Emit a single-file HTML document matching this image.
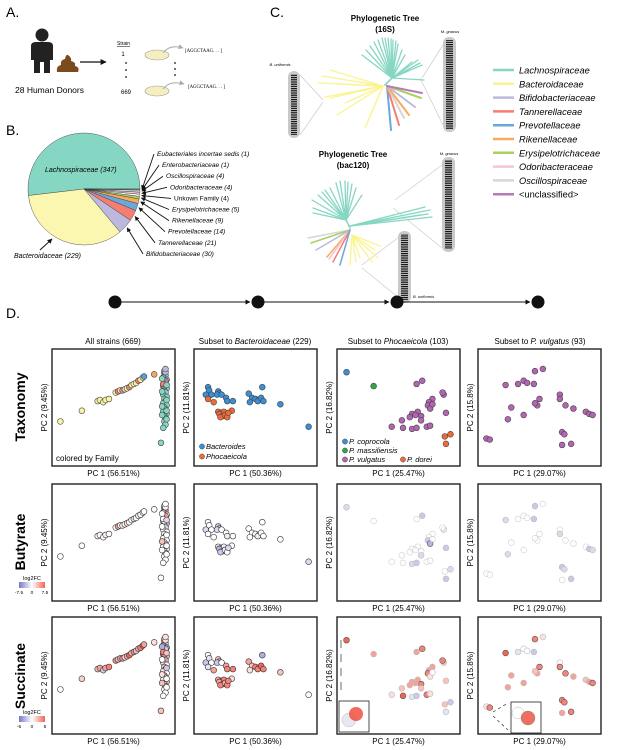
<!DOCTYPE html>
<html><head><meta charset="utf-8"><style>
html,body{margin:0;padding:0;background:#fff;}
svg{display:block;font-family:"Liberation Sans",sans-serif;}
.it{font-style:italic}
</style></head><body>
<svg id="fig" width="619" height="750" viewBox="0 0 619 750" xmlns="http://www.w3.org/2000/svg">
<defs>
<pattern id="bars" width="4" height="2.2" patternUnits="userSpaceOnUse"><rect width="4" height="1.2" fill="#111"/></pattern>
<marker id="ah" viewBox="0 0 10 10" refX="9" refY="5" markerWidth="5" markerHeight="5" orient="auto"><path d="M0,0 L10,5 L0,10z" fill="#111"/></marker>
<marker id="ahg" viewBox="0 0 10 10" refX="9" refY="5" markerWidth="5" markerHeight="5" orient="auto"><path d="M0,0 L10,5 L0,10z" fill="#aaa"/></marker>
</defs>

<g>
<text x="6" y="17" font-size="14">A.</text>
<g fill="#222">
<circle cx="42" cy="35" r="6.5"/>
<path d="M31,46 Q31,42 36,42 L48,42 Q53,42 53,46 L53,60 L50,60 L50,73 L44,73 L44,62 L40,62 L40,73 L34,73 L34,60 L31,60z"/>
</g>
<path d="M57,72 Q56,66 61,65 Q60,60 65,59 Q66,54 68,55 Q72,58 71,61 Q76,62 75,66 Q80,67 78,72z" fill="#7b4a1e"/>
<line x1="80" y1="62" x2="106" y2="62" stroke="#111" stroke-width="1.2" marker-end="url(#ah)"/>
<text x="15" y="93" font-size="8.5">28 Human Donors</text>
<text x="117" y="45" font-size="5" text-decoration="underline">Strain</text>
<text x="123" y="56" font-size="6" text-anchor="middle">1</text>
<circle cx="126" cy="63" r="0.9" fill="#111"/><circle cx="126" cy="70" r="0.9" fill="#111"/><circle cx="126" cy="77" r="0.9" fill="#111"/>
<text x="126" y="94" font-size="6" text-anchor="middle">669</text>
<ellipse cx="157" cy="55" rx="12" ry="5" fill="#f5efc0" stroke="#999" stroke-width="0.6"/>
<ellipse cx="157" cy="91" rx="12" ry="5" fill="#f5efc0" stroke="#999" stroke-width="0.6"/>
<path d="M163,53 Q170,44 183,48" stroke="#aaa" fill="none" stroke-width="1" marker-end="url(#ahg)"/>
<path d="M163,89 Q170,80 184,84" stroke="#aaa" fill="none" stroke-width="1" marker-end="url(#ahg)"/>
<circle cx="175" cy="63" r="0.9" fill="#111"/><circle cx="175" cy="69" r="0.9" fill="#111"/><circle cx="175" cy="75" r="0.9" fill="#111"/>
<text x="185" y="52" font-size="4.8" font-family="Liberation Serif,serif">[AGGCTAAG. . . ]</text>
<text x="188" y="88" font-size="4.8" font-family="Liberation Serif,serif">[AGGCTAAG. . . ]</text>
</g>

<g>
<text x="6" y="135" font-size="14">B.</text>
<g id="pie"></g>
<g id="pielabels"></g>
</g>

<g>
<text x="270" y="17" font-size="14">C.</text>
<text x="385" y="21" font-size="8" font-weight="bold" text-anchor="middle">Phylogenetic Tree</text>
<text x="385" y="32" font-size="8" font-weight="bold" text-anchor="middle">(16S)</text>
<text x="353" y="157" font-size="8" font-weight="bold" text-anchor="middle">Phylogenetic Tree</text>
<text x="353" y="168" font-size="8" font-weight="bold" text-anchor="middle">(bac120)</text>
<text x="450" y="33" font-size="4" class="it" text-anchor="middle">M. gnavus</text>
<text x="280" y="66" font-size="4" class="it" text-anchor="middle">B. uniformis</text>
<text x="449" y="155" font-size="4" class="it" text-anchor="middle">M. gnavus</text>
<text x="413" y="298" font-size="4" class="it">B. uniformis</text>
<g>
<rect x="443" y="37" width="13" height="95" rx="6" fill="#c9c9c9"/><rect x="446" y="40" width="7" height="89" fill="url(#bars)"/>
<rect x="288" y="71" width="12" height="67" rx="6" fill="#c9c9c9"/><rect x="291" y="74" width="6" height="61" fill="url(#bars)"/>
<rect x="442" y="157" width="13" height="95" rx="6" fill="#c9c9c9"/><rect x="445" y="160" width="7" height="89" fill="url(#bars)"/>
<rect x="398" y="231" width="13" height="72" rx="6" fill="#c9c9c9"/><rect x="401" y="234" width="7" height="66" fill="url(#bars)"/>
</g>
<g stroke="#ccc" stroke-width="0.7" fill="none">
<path d="M422,78 L443,45 M420,78 L443,125"/>
<path d="M323,100 L300,75 M323,102 L300,135"/>
<path d="M395,200 L442,165 M393,208 L442,248"/>
<path d="M362,265 L399,237 M362,268 L399,298"/>
</g>
<g id="trees" stroke-linecap="round" fill="none"></g>
<g id="legend"></g>
</g>

<g>
<text x="6" y="318" font-size="14">D.</text>
<g>
<line x1="121" y1="302" x2="250" y2="302" stroke="#111" marker-end="url(#ah)"/>
<line x1="264" y1="302" x2="389" y2="302" stroke="#111" marker-end="url(#ah)"/>
<line x1="403" y1="302" x2="530" y2="302" stroke="#111" marker-end="url(#ah)"/>
<circle cx="115" cy="302" r="6.5" fill="#111"/><circle cx="258" cy="302" r="6.5" fill="#111"/><circle cx="397" cy="302" r="6.5" fill="#111"/><circle cx="538" cy="302" r="6.5" fill="#111"/>
</g>
<g font-size="8" text-anchor="middle">
<text x="113" y="344">All strains (669)</text>
<text x="255" y="344">Subset to <tspan class="it">Bacteroidaceae</tspan> (229)</text>
<text x="398" y="344">Subset to <tspan class="it">Phocaeicola</tspan> (103)</text>
<text x="540" y="344">Subset to <tspan class="it">P. vulgatus</tspan> (93)</text>
</g>
<g font-size="14" font-weight="bold" text-anchor="middle">
<text transform="translate(25,407) rotate(-90)">Taxonomy</text>
<text transform="translate(25,542) rotate(-90)">Butyrate</text>
<text transform="translate(25,676) rotate(-90)">Succinate</text>
</g>
<g id="scatters"></g>
</g>
</svg>
<script>
const NS='http://www.w3.org/2000/svg';
function mk(tag,attrs,parent){const e=document.createElementNS(NS,tag);for(const k in attrs)e.setAttribute(k,attrs[k]);if(parent)parent.appendChild(e);return e;}

const pieFamilies=['Lachnospiraceae','Bacteroidaceae','Bifidobacteriaceae','Tannerellaceae','Prevotellaceae','Rikenellaceae','Erysipelotrichaceae','Unkown Family','Odoribacteraceae','Oscillospiraceae','Enterobacteriaceae','Eubacteriales incertae sedis'];
const pieCounts=[347,229,30,21,14,9,5,4,4,4,1,1];
const pieColors=['#86d6c4','#fbf7b0','#bdb8de','#f57d72','#6aa8da','#f9ab5c','#a8d25c','#ffffff','#f5c4d8','#d6d6d6','#ffffff','#ffffff'];
const cx=84,cy=189,R=56;
const pie=document.getElementById('pie');
let total=pieCounts.reduce((a,b)=>a+b,0),acc=0;
const mids=[];
pieCounts.forEach((c,i)=>{
  const a0=acc/total*2*Math.PI, a1=(acc+c)/total*2*Math.PI; acc+=c;
  const p0=[cx+R*Math.cos(a0),cy-R*Math.sin(a0)], p1=[cx+R*Math.cos(a1),cy-R*Math.sin(a1)];
  const large=(a1-a0)>Math.PI?1:0;
  const s=mk('path',{d:`M${cx},${cy} L${p0[0]},${p0[1]} A${R},${R} 0 ${large} 0 ${p1[0]},${p1[1]} Z`,fill:pieColors[i],stroke:'#333','stroke-width':0.4},pie);
  
  
  mids.push((a0+a1)/2);
});
const pl=document.getElementById('pielabels');
let t=mk('text',{x:45,y:172,'font-size':7,'class':'it'},pl);t.textContent='Lachnospiraceae (347)';
t=mk('text',{x:14,y:258,'font-size':7,'class':'it'},pl);t.textContent='Bacteroidaceae (229)';
mk('line',{x1:40,y1:250,x2:52,y2:239,stroke:'#111','stroke-width':1,'marker-end':'url(#ah)'},pl);
const lblOrder=[11,10,9,8,7,6,5,4,3,2];
const lblX=[157,162,166,170,174,172,172,168,158,146];
lblOrder.forEach((fi,k)=>{
  const y=156+k*11.1;
  const tx=mk('text',{x:lblX[k],y:y,'font-size':6.6,'class':fi===7?'':'it'},pl);
  tx.textContent=pieFamilies[fi]+' ('+pieCounts[fi]+')';
  const a=mids[fi];
  const ex=cx+(R+2)*Math.cos(a), ey=cy-(R+2)*Math.sin(a);
  mk('line',{x1:lblX[k]-3,y1:y-2,x2:ex,y2:ey,stroke:'#111','stroke-width':0.9,'marker-end':'url(#ah)'},pl);
});

const tcol={L:'#86d6c4',B:'#fbf48e',Bi:'#bdb8de',T:'#f57d72',P:'#6aa8da',R:'#f9ab5c',E:'#a8d25c',O:'#f5c4d8',Os:'#d6d6d6',U:'#b77ab8'};
const trees=document.getElementById('trees');
function br(c,x1,y1,x2,y2,w){mk('line',{x1,y1,x2,y2,stroke:tcol[c],'stroke-width':w||1.3},trees);}
[[362,55],[366,50],[370,46],[374,42],[378,40],[382,38],[385,38],[388,38],[391,39],[393,40],[396,41],[398,44],[402,50],[405,55],[412,62],[418,60],[420,63],[422,65],[424,80],[410,70]].forEach(p=>br('L',392,78,p[0],p[1]));
br('L',385,85,392,78,1.7);
[[318,83],[322,76],[330,70],[325,97],[330,98],[337,115],[345,103],[337,84]].forEach(p=>br('B',383,86,p[0],p[1]));
br('B',383,86,365,128,1.4);
[['P',391,130],['T',399,125],['Os',404,118],['R',409,115],['Bi',415,107],['E',421,98],['U',422,93]].forEach(a=>br(a[0],387,86,a[1],a[2],2));
[[312,200],[313,208],[313,213],[318,195],[322,192],[325,190],[330,188],[336,183],[340,181],[345,181],[348,182],[352,184],[356,188],[362,195]].forEach(p=>br('L',346,220,p[0],p[1]));
[[425,207],[430,210],[428,214],[432,217],[420,215]].forEach(p=>br('L',350,226,p[0],p[1]));
br('L',346,220,350,228,1.5);
[['Os',308,238],['E',311,243],['Bi',316,250],['R',327,257],['O',329,259],['T',333,262],['P',340,265]].forEach(a=>br(a[0],350,230,a[1],a[2],1.5));
[[350,265],[356,262],[360,258],[375,250],[380,246],[378,258],[372,262]].forEach(p=>br('B',352,235,p[0],p[1]));

const legNames=['Lachnospiraceae','Bacteroidaceae','Bifidobacteriaceae','Tannerellaceae','Prevotellaceae','Rikenellaceae','Erysipelotrichaceae','Odoribacteraceae','Oscillospiraceae','<unclassified>'];
const legColors=['#86d6c4','#fbf48e','#bdb8de','#f57d72','#6aa8da','#f9ab5c','#a8d25c','#f5c4d8','#d6d6d6','#b77ab8'];
const lg=document.getElementById('legend');
legNames.forEach((n,i)=>{
  const y=70+i*13.8;
  const g=mk('g',{},lg);
  
  
  mk('line',{x1:493,y1:y,x2:514,y2:y,stroke:legColors[i],'stroke-width':2.5},g);
  const tx=mk('text',{x:519,y:y+3.5,'font-size':9.3,'class':i===9?'':'it'},g);tx.textContent=n;
});

const p1x=[3,22,36,38,41,43,46, 52,54,56,58,60,62,64,66,68,70,72,74,76,77, 86, 95,96,94,97,95,96,94,97,95,96,94,97,95,96,94,97,95,96,94,97,95,96,95,96, 92, 95,96, 96,95, 94, 93,97,93,97,93,97,93,97,96,94];
const p1y=[37,47,56,57,55,57,58, 64,65,66,66,67,68,69,71,72,73,75,76,78,79, 81, 82,80,78,76,74,72,70,68,66,64,62,60,58,56,54,52,50,48,46,44,42,40,37,34, 17, 84,83, 75,70, 72, 77,71,65,57,51,47,43,39,86,31];
const p1fam=[1,1,1,1,1,1,1, 1,3,1,3,8,1,3,1,1,1,3,1,1,4, 5, 0,0,0,0,0,0,0,0,0,0,0,0,0,0,0,0,0,0,0,0,0,0,0,0, 0, 2,2, 9,9, 3, 0,0,0,0,0,0,0,0,2,0];
const p1but=[0,0,0.5,0,0,1,0, 0,5,0,-1,0,2,0,0,-2,0,1,0,0,0, 0, 3,6,2,0,-3,0,0,4,0,-2,0,0,0,1,0,0,0,-1,0,0,0,0,0,0, 0, 0,0, 5,0, 0, 0,-2,0,0,3,0,0,0,0,0];
const p1suc=[0,1.5,2,3,-2,3,4, 4,-2,3,4,-1,3,5,2,4,-2,3,4,5,3, 1, 0,-2,3,-3,2,0,4,-2,1,3,-1,0,2,-3,1,0,3,-1,0,2,0,1,0,0, 2, 0,1, -2,3, 4, -3,2,0,-2,1,0,2,0,1,0];
const p2x=[8,9,6,11,17,18,16,20,24,25,30,44,47,50,53,52,55,57,45,56,72,97, 8,13,17,20,22,18,21,19,23,25,29,26];
const p2y=[69,66,62,62,65,63,62,62,59,56,56,63,59,58,57,56,59,56,55,69,53,32, 58,55,46,45,46,44,42,41,43,41,47,45];
const p2genus=[0,0,0,0,0,0,0,0,0,0,0,0,0,0,0,0,0,0,0,0,0,0, 1,1,1,1,1,1,1,1,1,1,1,1];
const p2but=[0,0,-2,0,-3,-4,-2,0,0,-1,0,0,0,0,0,-1,0,0,0,0,0,-2, 0,0,-2,-3,-1,-4,-2,-3,-1,0,0,-2];
const p2suc=[0,-1,-2,0,2,3,-2,0,3,4,4,3,2,4,3,4,5,4,1,-3,2,0, -1,3,3,4,4,3,5,4,3,4,1,4];
const p3x=[4,28, 71,66,90,80,77,76,78,67,62,70,70,53,60,44,54,62,66,75,78,92,89,80,65, 91,96,92];
const p3y=[83,70, 75,72,62,58,55,52,49,46,44,42,38,38,41,32,31,30,31,32,33,45,64,53,43, 23,25,16];
const p3sp=[0,1, 2,2,2,2,2,2,2,2,2,2,2,2,2,2,2,2,2,2,2,2,2,2,2, 3,3,3];
const p3but=[-2,0, -3,0,-1,0,0,-3,-4,0,0,0,-2,0,0,0,0,-2,-3,0,0,-3,0,0,0, 0,-2,-3];
const p3suc=[5,3, 4,3,2,3,3,4,1,3,3,4,2,2,3,1,5,-1,-2,4,1,2,4,0,3, 2,-2,-1];
const p4x=[46,53,20,31,36,45,68,68,50,48,25,73,80,36,22,91,94,97,3,6,70,72,78,70,39,46];
const p4y=[84,86,71,72,75,72,62,58,58,52,50,52,49,43,39,46,44,43,21,20,27,25,16,15,73,54];
const p4but=[-3,0,-2,0,0,-3,0,-2,0,0,0,0,0,0,-2,0,-3,-2,0,0,-3,-2,-3,0,0,0];
const p4suc=[4,1,5,-1,0,-2,0,4,4,3,3,4,3,3,3,2,3,4,1,4,4,4,4,3,0,2];

const famColors=['#86d6c4','#f8f4a4','#bdb8de','#f57d72','#5a9fd4','#f9a85a','#a8d25c','#f5c4d8','#d6d6d6','#b77ab8'];
const genusColors=['#3a8fd6','#f06a35'];
const spColors=['#3a8fd6','#2aa84a','#b563b5','#f06a35'];

const colX=[52,194,337,478], rowY=[349,484,617], BW=123, BH=117;
const pcx=['PC 1 (56.51%)','PC 1 (50.36%)','PC 1 (25.47%)','PC 1 (29.07%)'];
const pcy=['PC 2 (9.45%)','PC 2 (11.81%)','PC 2 (16.82%)','PC 2 (15.8%)'];
const panels=[
 {x:p1x,y:p1y,tax:p1fam,tc:famColors,but:p1but,suc:p1suc},
 {x:p2x,y:p2y,tax:p2genus,tc:genusColors,but:p2but,suc:p2suc},
 {x:p3x,y:p3y,tax:p3sp,tc:spColors,but:p3but,suc:p3suc},
 {x:p4x,y:p4y,tax:null,tc:null,but:p4but,suc:p4suc}];

function lerp(a,b,t){return Math.round(a+(b-a)*t);}
function fc(v,max){
  const t=Math.max(-1,Math.min(1,v/max));
  if(t>=0) return `rgb(${lerp(255,242,t)},${lerp(255,100,t)},${lerp(255,85,t)})`;
  return `rgb(${lerp(255,120,-t)},${lerp(255,120,-t)},${lerp(255,200,-t)})`;
}
const sc=document.getElementById('scatters');
const rowNames=['taxonomy','butyrate','succinate'];
for(let r=0;r<3;r++)for(let c=0;c<4;c++){
  const L=colX[c],T=rowY[r],P=panels[c];
  const g=mk('g',{},sc);
  
  
  const xs=v=>L+5+v/100*(BW-10), ys=v=>T+BH-5-v/100*(BH-10);
  mk('rect',{x:L,y:T,width:BW,height:BH,fill:'#fff',stroke:'#222','stroke-width':1.4},g);
  const xl=mk('text',{x:L+BW/2,y:T+BH+10,'font-size':8,'text-anchor':'middle'},g);xl.textContent=pcx[c];
  
  
  const yl=mk('text',{transform:`translate(${L-5},${T+BH/2}) rotate(-90)`,'font-size':8,'text-anchor':'middle'},g);yl.textContent=pcy[c];
  
  
  const dark=(c<2);
  for(let i=0;i<P.x.length;i++){
    let fill,stroke,sw=0.6,op=1;
    if(r===0){fill=c===3?'#b563b5':P.tc[P.tax[i]];stroke='#444';}
    else if(r===1){fill=fc(P.but[i],7.5);stroke=dark?'#333':'#bbb';if(!dark&&P.but[i]===0)op=0.7;}
    else {fill=fc(P.suc[i],5);stroke=dark?'#333':'#bbb';}
    if(r>0&&!dark&&Math.abs(r===1?P.but[i]:P.suc[i])>=4)stroke='#555';
    const d=mk('circle',{cx:xs(P.x[i]),cy:ys(P.y[i]),r:2.9,fill:fill,stroke:stroke,'stroke-width':sw,opacity:op},g);
    
    
  }
}
let ann=mk('text',{x:56,y:461,'font-size':8},sc);ann.textContent='colored by Family';
function leg(x,y,col,label){mk('circle',{cx:x,cy:y-2.5,r:2.6,fill:col,stroke:'#333','stroke-width':0.4},sc);const tt=mk('text',{x:x+4,y:y,'font-size':7.5,'class':'it'},sc);tt.textContent=label;return tt;}
leg(202,449,'#3a8fd6','Bacteroides');leg(202,459,'#f06a35','Phocaeicola');
leg(345,444,'#3a8fd6','P. coprocola');leg(345,453,'#2aa84a','P. massiliensis');leg(345,462,'#b563b5','P. vulgatus');leg(403,462,'#f06a35','P. dorei');
const cb=[{y:582,lab:['-7.5','0','7.5']},{y:716,lab:['-5','0','5']}];
mk('linearGradient',{id:'cbg'},document.querySelector('defs'));
const gr=document.getElementById('cbg');
mk('stop',{offset:'0','stop-color':'#7878c8'},gr);mk('stop',{offset:'0.5','stop-color':'#fff'},gr);mk('stop',{offset:'1','stop-color':'#f26555'},gr);
cb.forEach(b=>{
  const g=mk('g',{},sc);
  
  
  const t1=mk('text',{x:32,y:b.y-2,'font-size':5.5,'text-anchor':'middle'},g);t1.textContent='log2FC';
  mk('rect',{x:19,y:b.y,width:26,height:6,fill:'url(#cbg)'},g);
  [19,32,45].forEach((x,k)=>{const tt=mk('text',{x:x,y:b.y+12,'font-size':4.8,'text-anchor':'middle'},g);tt.textContent=b.lab[k];});
});
const ins=mk('g',{},sc);


mk('rect',{x:339,y:701,width:30,height:31,fill:'#fff',stroke:'#222','stroke-width':0.8},ins);
mk('circle',{cx:349,cy:720,r:7,fill:'#e6e6f4',stroke:'#aaa','stroke-width':0.4,opacity:0.9},ins);
mk('circle',{cx:356,cy:714,r:7,fill:'#f0503c',opacity:0.85},ins);
mk('path',{d:'M341,640 L341,648 M341,654 L341,662 M341,668 L341,676 M341,682 L341,690',stroke:'#333','stroke-width':0.7},ins);
mk('rect',{x:511,y:702,width:30,height:31,fill:'#fff',stroke:'#222','stroke-width':0.8},ins);
mk('circle',{cx:518,cy:713,r:6,fill:'#fff',stroke:'#bbb','stroke-width':0.5},ins);
mk('circle',{cx:528,cy:718,r:7,fill:'#f07060',stroke:'#888','stroke-width':0.5},ins);
mk('path',{d:'M493,712 L508,703 M493,716 L508,730',stroke:'#333','stroke-width':0.7,'stroke-dasharray':'3,3'},ins);
</script>
</body></html>
